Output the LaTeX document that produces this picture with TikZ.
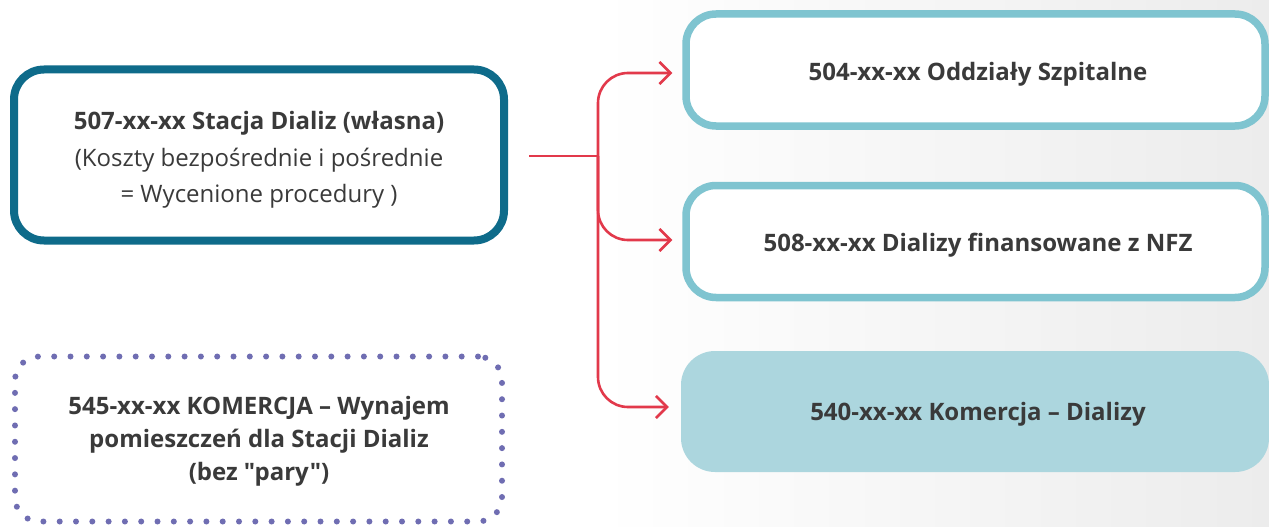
\documentclass[tikz,border=0pt]{standalone}
\usepackage{fontspec}
\setmainfont{Open Sans}[Ligatures=TeXOff]
\usetikzlibrary{arrows.meta}
\definecolor{darkteal}{HTML}{0E6B8A}
\definecolor{lightteal}{HTML}{7FC4D0}
\definecolor{fillteal}{HTML}{ACD6DE}
\definecolor{dotpurple}{HTML}{6F6DB2}
\definecolor{linkred}{HTML}{E2394B}
\definecolor{txt}{HTML}{3A3A3A}
\definecolor{bgright}{HTML}{ECECEC}
\tikzset{
  box/.style={rectangle, rounded corners=30pt, inner sep=0pt},
  mainbox/.style={box, draw=darkteal, line width=8pt, fill=white},
  outbox/.style={box, draw=lightteal, line width=7.5pt, fill=white},
  filledbox/.style={box, fill=fillteal},
  dotbox/.style={box, draw=dotpurple, line width=6pt, line cap=round,
    dash pattern=on 0pt off 16.3pt, rounded corners=24pt},
  label text/.style={align=center, text=txt, inner sep=0pt,
    font=\fontsize{24}{36.5}\selectfont},
  link/.style={draw=linkred, line width=2.6pt, rounded corners=30pt},
  linkarrow/.style={link, -{Straight Barb[length=11pt, width=22pt, line width=2.6pt]}}
}
\begin{document}
\begin{tikzpicture}[x=1pt, y=-1pt]
  % canvas with a soft grey fade towards the right edge
  \useasboundingbox (0,0) rectangle (1269,527);
  \fill[white] (0,0) rectangle (1269,527);
  \shade[left color=white, right color=bgright, draw=none] (600,0) rectangle (1269,527);

  % source account
  \node[mainbox, minimum width=490pt, minimum height=171pt] (own) at (259,155) {};
  \node[label text] (ownText) at (259,160)
    {\textbf{507-xx-xx Stacja Dializ (własna)}\\(Koszty bezpośrednie i pośrednie\\= Wycenione procedury )};

  % rental account
  \node[dotbox, minimum width=487pt, minimum height=165pt] (rent) at (258.5,439) {};
  \node[label text, font=\fontsize{24}{33}\selectfont] (rentText) at (259,441)
    {\textbf{545-xx-xx KOMERCJA – Wynajem}\\\textbf{pomieszczeń dla Stacji Dializ}\\\textbf{(bez "pary")}};

  % target accounts
  \node[outbox, minimum width=579pt, minimum height=112pt] (ward) at (975.5,70) {};
  \node[label text] (wardText) at (978,74) {\textbf{504-xx-xx Oddziały Szpitalne}};
  \node[outbox, minimum width=579pt, minimum height=112pt] (nfz) at (975.5,241.5) {};
  \node[label text] (nfzText) at (978,245) {\textbf{508-xx-xx Dializy finansowane z NFZ}};
  \node[filledbox, minimum width=588pt, minimum height=121pt, rounded corners=34pt] (comm) at (975,411.5) {};
  \node[label text] (commText) at (978,414) {\textbf{540-xx-xx Komercja – Dializy}};

  % distribution connectors
  \coordinate (split) at (598,156);
  \coordinate (start) at ([xshift=21pt]own.east |- split);
  \draw[link] (start) -- (split);
  \draw[linkarrow] (split) |- ([xshift=-10pt]ward.west |- 0,73);
  \draw[linkarrow] (598,156) -- (598,240) -- ([xshift=-10pt]nfz.west |- 0,240);
  \draw[linkarrow] (split) |- ([xshift=-12pt]comm.west |- 0,407);
\end{tikzpicture}
\end{document}
